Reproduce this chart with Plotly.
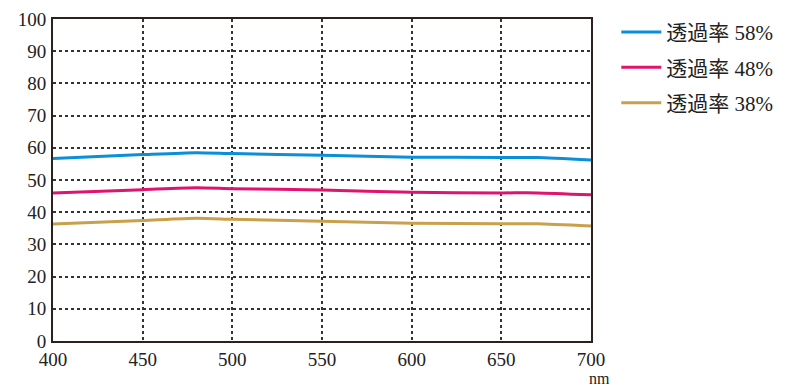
import plotly.graph_objects as go

wavelength = [400, 450, 480, 500, 550, 600, 650, 670, 700]
t58 = [56.7, 57.9, 58.5, 58.2, 57.7, 57.1, 57.0, 57.0, 56.2]
t48 = [46.0, 47.0, 47.6, 47.3, 46.9, 46.2, 46.0, 46.0, 45.4]
t38 = [36.3, 37.4, 38.1, 37.8, 37.2, 36.6, 36.4, 36.4, 35.7]
names = ["透過率 58%", "透過率 48%", "透過率 38%"]
colors = ["#0b8fd9", "#e0146f", "#c9a04c"]
x_ticks = [400, 450, 500, 550, 600, 650, 700]
y_ticks = [0, 10, 20, 30, 40, 50, 60, 70, 80, 90, 100]

font_family = "Liberation Serif, Noto Sans CJK JP, serif"

fig = go.Figure()
for i, (ys, nm, c) in enumerate(zip([t58, t48, t38], names, colors)):
    fig.add_trace(go.Scatter(x=wavelength, y=ys, mode="lines", name=nm,
                             line=dict(color=c, width=3, shape="spline", smoothing=0.6),
                             legendgroup=str(i)))

axis_common = dict(showline=True, mirror=True, linecolor="#2b2220", linewidth=2,
                   showgrid=True, gridcolor="#333333", gridwidth=1.5, griddash="dot",
                   zeroline=False, ticks="", automargin=False, ticklabeloverflow="allow",
                   tickfont=dict(family=font_family, size=19, color="#222"))

fig.update_xaxes(range=[400, 700], tickvals=x_ticks, ticklabelstandoff=0, **axis_common)
fig.update_yaxes(range=[0, 100], tickvals=y_ticks, ticklabelstandoff=1, **axis_common)

fig.add_annotation(x=1.0, y=0, xref="paper", yref="paper", text="nm", showarrow=False,
                   xanchor="left", yanchor="top", xshift=-4, yshift=-27,
                   font=dict(family=font_family, size=16, color="#222"))

fig.update_layout(
    width=800, height=386,
    margin=dict(l=53, r=209, t=13, b=45),
    plot_bgcolor="white", paper_bgcolor="white",
    font=dict(family=font_family, color="#222"),
    legend=dict(x=1.047, y=1.022, xanchor="left", yanchor="top",
                font=dict(family=font_family, size=21, color="#222"),
                tracegroupgap=5, itemwidth=40, bgcolor="rgba(0,0,0,0)"),
    showlegend=True,
)

fig.write_html("out.html", config={"displayModeBar": False},
               post_script="document.body.style.margin='0';")
